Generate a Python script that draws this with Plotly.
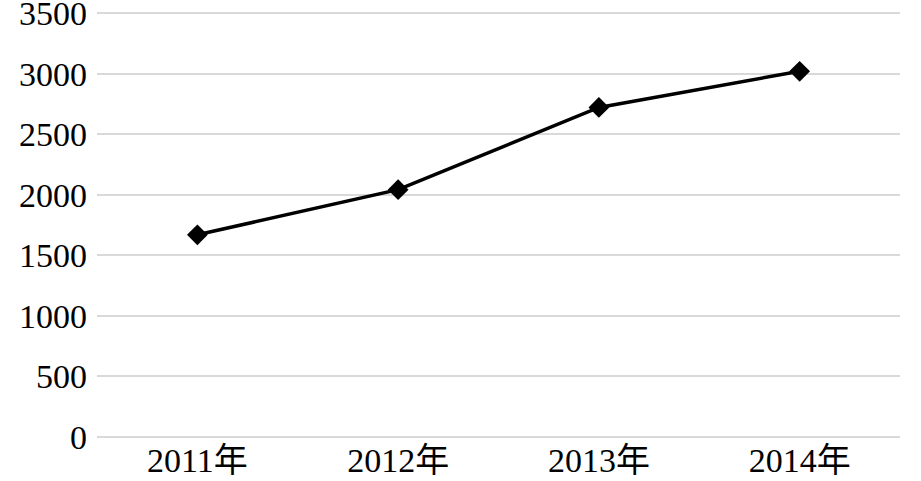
import plotly.graph_objects as go

years = ["2011年", "2012年", "2013年", "2014年"]
values = [1670, 2043, 2722, 3020]
y_ticks = [0, 500, 1000, 1500, 2000, 2500, 3000, 3500]

FONT = "Liberation Serif, Times New Roman, Noto Sans CJK SC, serif"

fig = go.Figure(
    go.Scatter(
        x=years,
        y=values,
        mode="lines+markers",
        line=dict(color="black", width=3.5),
        marker=dict(symbol="diamond", size=16, color="black"),
        showlegend=False,
    )
)

fig.update_layout(
    width=921,
    height=481,
    margin=dict(l=97, r=21, t=12, b=44),
    paper_bgcolor="white",
    plot_bgcolor="white",
    font=dict(family=FONT, size=34, color="black"),
)
fig.update_xaxes(
    range=[-0.5, 3.5],
    showgrid=False,
    showline=False,
    ticks="",
    tickfont=dict(size=34),
    ticklabelstandoff=0,
    automargin=False,
)
fig.update_yaxes(
    range=[0, 3510],
    tickvals=y_ticks,
    gridcolor="#d9d9d9",
    gridwidth=2,
    zeroline=True,
    zerolinecolor="#d9d9d9",
    zerolinewidth=2,
    showline=False,
    ticks="",
    tickfont=dict(size=34),
    ticklabelstandoff=9,
    ticklabeloverflow="allow",
    automargin=False,
)

# drop the browser's default 8px body margin so the figure fills the window
fig.write_html(
    "out.html",
    config={"displayModeBar": False},
    post_script="document.body.style.margin = '0';",
)
